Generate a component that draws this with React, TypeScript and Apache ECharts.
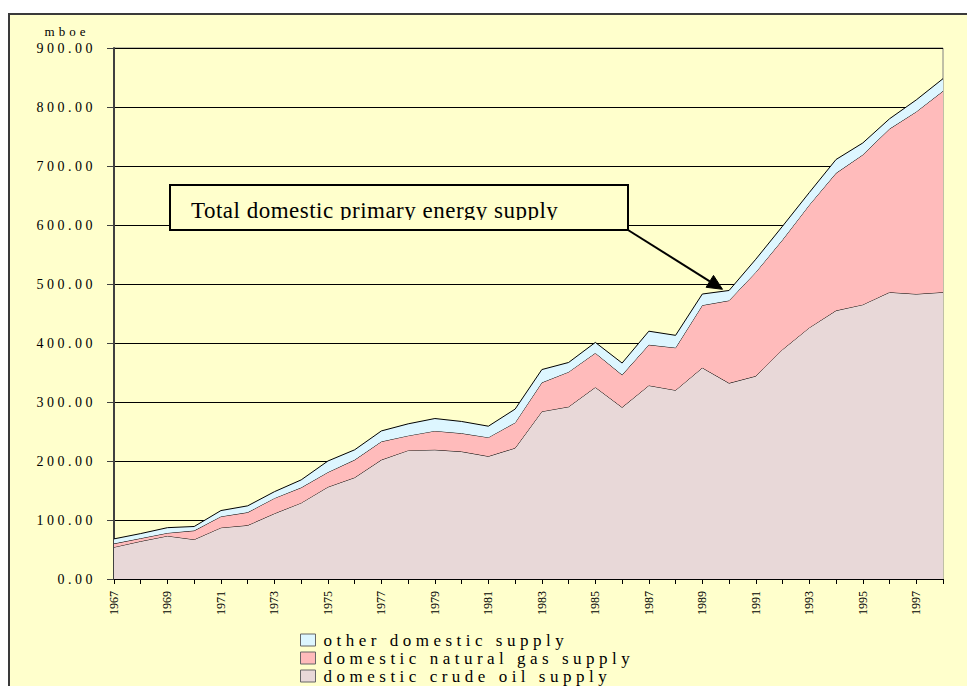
import React, { useEffect, useRef } from "react";
import * as echarts from "echarts";

const years = [
  "1967", "1968", "1969", "1970", "1971", "1972", "1973", "1974",
  "1975", "1976", "1977", "1978", "1979", "1980", "1981", "1982",
  "1983", "1984", "1985", "1986", "1987", "1988", "1989", "1990",
  "1991", "1992", "1993", "1994", "1995", "1996", "1997", "1998",
];

const crudeOil = [
  54, 64, 73, 67, 87, 91, 111, 129, 156, 172, 202, 218, 219, 216, 208, 222,
  284, 292, 325, 291, 328, 320, 358, 332, 344, 389, 426, 455, 465, 486, 483, 486,
];

const naturalGas = [
  6, 5, 5, 15, 19, 22, 26, 26, 25, 30, 31, 25, 32, 31, 32, 43,
  49, 59, 58, 55, 69, 72, 106, 140, 176, 186, 208, 233, 254, 277, 309, 341,
];

const otherSupply = [
  8, 8, 9, 7, 10, 11, 11, 13, 19, 17, 18, 20, 21, 20, 19, 23,
  22, 16, 18, 20, 23, 21, 19, 17, 22, 23, 21, 23, 20, 17, 20, 21,
];

const seriesNames = [
  "domestic crude oil supply",
  "domestic natural gas supply",
  "other domestic supply",
];
const legendOrder = [
  "other domestic supply",
  "domestic natural gas supply",
  "domestic crude oil supply",
];
const fills = ["#E8D8D8", "#FFBBBB", "#DDF6FF"];

const yTicks = { min: 0, max: 900, interval: 100 };
const yUnit = "mboe";
const note = "Total domestic primary energy supply";

const FONT = "Liberation Serif";

const css = `
.chartbox text { font-family: 'Liberation Serif', 'Times New Roman', serif !important; }
.chartbox text[style*="14px"] { letter-spacing: 3.5px; }
.chartbox text[style*="17px"] { letter-spacing: 4.5px; }
.chartbox text[style*="13px"] { letter-spacing: 4px; }
.chartbox text[style*="23px"] { letter-spacing: 0.5px; }
`;

export default function App() {
  const ref = useRef<HTMLDivElement>(null);

  useEffect(() => {
    if (!ref.current) return;
    const chart = echarts.init(ref.current, undefined, { renderer: "svg" });
    const values = [crudeOil, naturalGas, otherSupply];

    const tip = [722.5, 289.3];
    const start = [628, 230];
    const dx = tip[0] - start[0];
    const dy = tip[1] - start[1];
    const len = Math.sqrt(dx * dx + dy * dy);
    const ux = dx / len;
    const uy = dy / len;
    const headLen = 15;
    const headHalf = 7;
    const base = [tip[0] - ux * headLen, tip[1] - uy * headLen];

    chart.setOption({
      animation: false,
      backgroundColor: "transparent",
      textStyle: { fontFamily: FONT },
      grid: {
        left: 114,
        right: 24,
        top: 48,
        bottom: 121,
        show: true,
        borderColor: "#808080",
        borderWidth: 1,
        backgroundColor: "transparent",
        containLabel: false,
        outerBoundsMode: "none",
      },
      legend: {
        orient: "vertical",
        left: 300,
        top: 631,
        padding: 0,
        data: legendOrder,
        icon: "rect",
        itemWidth: 15,
        itemHeight: 12,
        itemGap: 0,
        itemStyle: { borderColor: "#666", borderWidth: 1 },
        textStyle: {
          fontFamily: FONT,
          fontSize: 17,
          lineHeight: 18,
          color: "#000",
          padding: [0, 0, 0, 3],
        },
        selectedMode: false,
      },
      xAxis: {
        type: "category",
        data: years,
        boundaryGap: false,
        axisLine: { show: true, lineStyle: { color: "#000", width: 1 } },
        axisTick: { show: true, interval: 0, length: 5, lineStyle: { color: "#000" } },
        axisLabel: {
          interval: 1,
          rotate: 90,
          fontFamily: FONT,
          fontSize: 12,
          color: "#000",
          margin: 12,
        },
        splitLine: { show: false },
      },
      yAxis: {
        type: "value",
        min: yTicks.min,
        max: yTicks.max,
        interval: yTicks.interval,
        axisLine: { show: true, lineStyle: { color: "#404040", width: 2 } },
        axisTick: { show: true, length: 7, lineStyle: { color: "#404040" } },
        axisLabel: {
          formatter: (v: number) => v.toFixed(2),
          fontFamily: FONT,
          fontSize: 14,
          color: "#000",
          margin: 18,
        },
        splitLine: { show: true, lineStyle: { color: "#000", width: 1 } },
      },
      series: seriesNames.map((name, i) => ({
        name,
        type: "line",
        stack: "total",
        data: values[i],
        symbol: "none",
        smooth: false,
        itemStyle: { color: fills[i], borderColor: "#666", borderWidth: 1 },
        lineStyle: { color: "#000", width: 1 },
        areaStyle: { color: fills[i], opacity: 1 },
        z: 2 + i,
      })),
      graphic: [
        {
          type: "text",
          z: 100,
          style: {
            x: 67,
            y: 31,
            text: yUnit,
            align: "center",
            verticalAlign: "middle",
            fontFamily: FONT,
            fontSize: 13,
            fill: "#000",
          },
        },
        {
          type: "rect",
          z: 100,
          shape: { x: 170, y: 185, width: 458, height: 45 },
          style: { fill: "#FFFFCC", stroke: "none" },
        },
        {
          type: "text",
          z: 101,
          style: {
            x: 191,
            y: 210,
            text: note,
            align: "left",
            verticalAlign: "middle",
            fontFamily: FONT,
            fontSize: 23,
            fill: "#000",
          },
        },
        {
          type: "rect",
          z: 102,
          shape: { x: 172, y: 220, width: 454, height: 9 },
          style: { fill: "#FFFFCC", stroke: "none" },
        },
        {
          type: "rect",
          z: 103,
          shape: { x: 170, y: 185, width: 458, height: 45 },
          style: { fill: "none", stroke: "#000", lineWidth: 2 },
        },
        {
          type: "line",
          z: 103,
          shape: { x1: start[0], y1: start[1], x2: base[0], y2: base[1] },
          style: { stroke: "#000", lineWidth: 2 },
        },
        {
          type: "polygon",
          z: 103,
          shape: {
            points: [
              [tip[0], tip[1]],
              [base[0] - uy * headHalf, base[1] + ux * headHalf],
              [base[0] + uy * headHalf, base[1] - ux * headHalf],
            ],
          },
          style: { fill: "#000", stroke: "#000" },
        },
      ],
    });

    return () => chart.dispose();
  }, []);

  return (
    <>
      <style>{css}</style>
      <div
        style={{
          position: "fixed",
          left: 0,
          top: 0,
          width: 967,
          height: 686,
          background: "#FFFFFF",
        }}
      />
      <div
        style={{
          position: "fixed",
          left: 8,
          top: 13,
          width: 959,
          height: 673,
          background: "#FFFFCC",
          borderTop: "2px solid #3a3a3a",
          borderLeft: "2px solid #3a3a3a",
          boxSizing: "border-box",
        }}
      />
      <div
        ref={ref}
        className="chartbox"
        style={{ position: "fixed", left: 0, top: 0, width: 967, height: 700 }}
      />
    </>
  );
}
